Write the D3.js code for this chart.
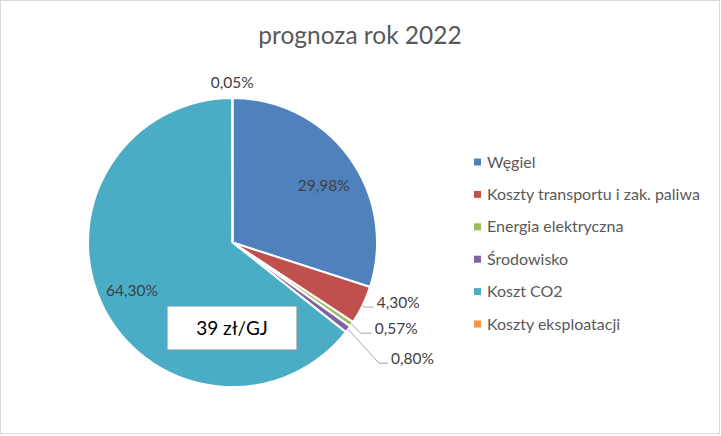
<!DOCTYPE html>
<html>
<head>
<meta charset="utf-8">
<script src="https://cdn.jsdelivr.net/npm/d3@7"></script>
<style>
  body { margin: 0; background: #fff; }
  svg { display: block; font-family: Lato, "Open Sans", sans-serif; }
</style>
</head>
<body>
<div id="chart"></div>
<script>
// data
const categories = ["Węgiel", "Koszty transportu i zak. paliwa", "Energia elektryczna", "Środowisko", "Koszt CO2", "Koszty eksploatacji"];
const shares = [29.98, 4.30, 0.57, 0.80, 64.30, 0.05];
const colors = ["#4F81BD", "#C0504D", "#9BBB59", "#8064A2", "#4BACC6", "#F79646"];
const chartTitle = "prognoza rok 2022";
const boxText = "39 zł/GJ";

const width = 721, height = 436;
const cx = 232.5, cy = 242.5, radius = 144.5;

// leader line layout for the small slices (offsets from the slice edge)
const outsideLayout = {
  "Koszty transportu i zak. paliwa": { ex: 1, ey: 2, len: 10 },
  "Energia elektryczna": { ex: 9, ey: 9, len: 11 },
  "Środowisko": { ex: 31, ey: 34, len: 9 },
  "Koszty eksploatacji": { top: true }
};

const data = categories.map((c, i) => ({ name: c, value: shares[i], color: colors[i] }));

const svg = d3.select("#chart").append("svg")
  .attr("width", width)
  .attr("height", height);

// chart frame
svg.append("rect")
  .attr("x", 0.5).attr("y", 0.5)
  .attr("width", 719).attr("height", 433)
  .attr("fill", "#fff")
  .attr("stroke", "#D9D9D9");

svg.append("text")
  .text(chartTitle)
  .attr("x", 360)
  .attr("y", 44)
  .attr("text-anchor", "middle")
  .attr("fill", "#595959")
  .style("font-size", "24.5px");

const pie = d3.pie().sort(null).value(d => d.value);
const arcs = pie(data);
const arc = d3.arc().innerRadius(0).outerRadius(radius);

const g = svg.append("g").attr("transform", `translate(${cx}, ${cy})`);

g.selectAll("path")
  .data(arcs)
  .join("path")
  .attr("d", arc)
  .attr("fill", d => d.data.color)
  .attr("stroke", "#fff")
  .attr("stroke-width", 2)
  .attr("stroke-linejoin", "round");

const fmt = v => v.toFixed(2).replace(".", ",") + "%";
const mid = d => (d.startAngle + d.endAngle) / 2;
const pt = (a, r) => [r * Math.sin(a), -r * Math.cos(a)];

// labels inside the big slices
const inside = arcs.filter(d => !outsideLayout[d.data.name]);
g.selectAll("text.inside")
  .data(inside)
  .join("text")
  .attr("class", "inside")
  .attr("x", d => pt(mid(d) + 0.04, radius * 0.76)[0])
  .attr("y", d => pt(mid(d) + 0.04, radius * 0.76)[1] + 4)
  .attr("dy", "0.35em")
  .attr("text-anchor", "middle")
  .attr("fill", "#404040")
  .style("font-size", "15.5px")
  .text(d => fmt(d.data.value));

// labels outside with leader lines
arcs.filter(d => outsideLayout[d.data.name]).forEach(d => {
  const lay = outsideLayout[d.data.name];
  if (lay.top) {
    const p = pt(mid(d), radius);
    g.append("text")
      .attr("x", p[0])
      .attr("y", p[1] - 10)
      .attr("text-anchor", "middle")
      .attr("fill", "#404040")
      .style("font-size", "15.5px")
      .text(fmt(d.data.value));
    return;
  }
  const p0 = pt(mid(d), radius);
  const p1 = [p0[0] + lay.ex, p0[1] + lay.ey];
  const p2 = [p1[0] + lay.len, p1[1]];
  g.append("polyline")
    .attr("points", [p0, p1, p2].map(p => p.join(",")).join(" "))
    .attr("fill", "none")
    .attr("stroke", "#A6A6A6")
    .attr("stroke-width", 1);
  g.append("text")
    .attr("x", p2[0] + 3)
    .attr("y", p2[1] + 1)
    .attr("fill", "#404040")
    .style("font-size", "15.5px")
    .text(fmt(d.data.value));
});

// annotation box
const box = svg.append("g").attr("transform", "translate(167, 306)");
box.append("rect")
  .attr("x", 0.5).attr("y", 0.5)
  .attr("width", 129).attr("height", 43)
  .attr("fill", "#fff")
  .attr("stroke", "#BFBFBF");
box.append("text")
  .attr("x", 65)
  .attr("y", 22)
  .attr("dy", "0.35em")
  .attr("text-anchor", "middle")
  .attr("fill", "#000")
  .style("font-size", "19px")
  .text(boxText);

// legend
const legend = svg.append("g").attr("transform", "translate(474, 162)");
const rowH = 32.4;
legend.selectAll("rect")
  .data(data)
  .join("rect")
  .attr("x", 0)
  .attr("y", (d, i) => i * rowH - 3.5)
  .attr("width", 7)
  .attr("height", 7)
  .attr("fill", d => d.color);
legend.selectAll("text")
  .data(data)
  .join("text")
  .attr("x", 13)
  .attr("y", (d, i) => i * rowH + 5.5)
  .attr("fill", "#595959")
  .style("font-size", "16px")
  .text(d => d.name);
</script>
</body>
</html>
